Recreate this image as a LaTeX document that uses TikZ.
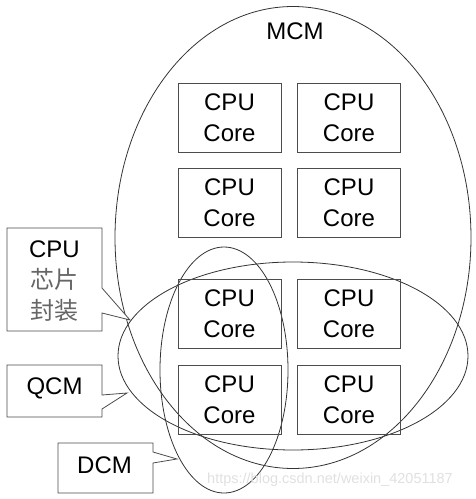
\documentclass[tikz,border=0pt]{standalone}
\usepackage{fontspec}
\setmainfont{Liberation Sans}
\newfontfamily\cjk{Noto Sans CJK SC}
\begin{document}
\begin{tikzpicture}[x=1pt,y=-1pt,
  ell/.style={draw=black!80,line width=0.8pt},
  core/.style={draw=black!70,line width=0.8pt,minimum width=103pt,minimum height=69pt,inner sep=0pt,align=center,font=\fontsize{24}{31}\selectfont},
  txt/.style={align=center,inner sep=0pt,font=\fontsize{24}{31}\selectfont},
  call/.style={draw=black!70,line width=0.8pt,fill=white,line join=miter}]
\useasboundingbox (0,0) rectangle (476,499);
% ellipses
\draw[ell] (293,237.5) ellipse [x radius=178, y radius=231];
\draw[ell] (293,356) ellipse [x radius=175, y radius=94];
\draw[ell] (224,370) ellipse [x radius=64, y radius=123];
\node[txt] (mcm) at (295,31) {MCM};
% cores
\node[core] (c11) at (229.5,117.5) {CPU\\Core};
\node[core] (c12) at (349,117.5) {CPU\\Core};
\node[core] (c21) at (229.5,202.5) {CPU\\Core};
\node[core] (c22) at (349,202.5) {CPU\\Core};
\node[core] (c31) at (229.5,314) {CPU\\Core};
\node[core] (c32) at (349,314) {CPU\\Core};
\node[core] (c41) at (229.5,399.5) {CPU\\Core};
\node[core] (c42) at (349,399.5) {CPU\\Core};
% callouts
\coordinate (tpkg) at (130,320);
\coordinate (tqcm) at (127,393);
\coordinate (tdcm) at (177,459);
\draw[call] (7,228) -- (102,228) -- (102,288) -- (tpkg) -- (102,313) -- (102,331) -- (7,331) -- cycle;
\node[txt] (pkg) at (54.5,281) {CPU\\{\cjk\color{black!60}芯片}\\{\cjk\color{black!60}封装}};
\draw[call] (7,365) -- (102,365) -- (102,395) -- (tqcm) -- (102,409) -- (102,417) -- (7,417) -- cycle;
\node[txt] (qcm) at (54.5,388) {QCM};
\draw[call] (58,443) -- (153,443) -- (153,452) -- (tdcm) -- (153,463) -- (153,493) -- (58,493) -- cycle;
\node[txt] (dcm) at (104.5,465) {DCM};
\node[font=\fontsize{14.5}{16}\selectfont,text=black!12,inner sep=0pt] (wm) at (330,480) {https://blog.csdn.net/weixin\_42051187};
\end{tikzpicture}
\end{document}
